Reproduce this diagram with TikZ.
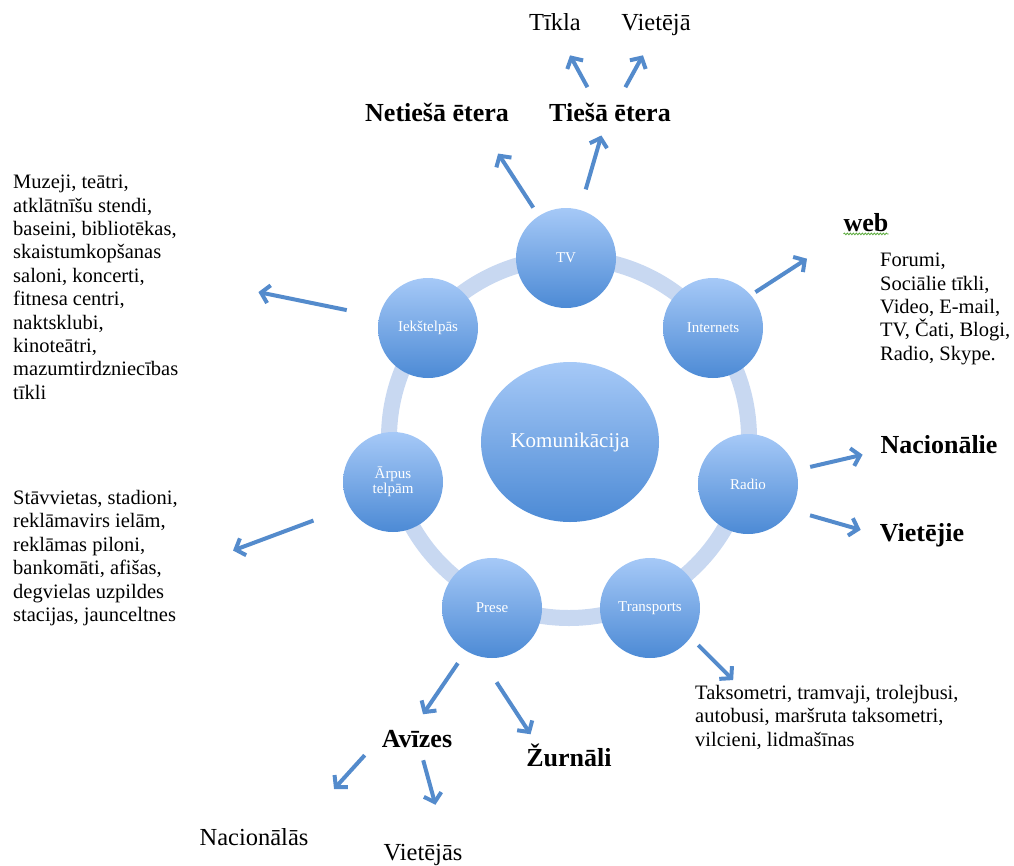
\documentclass[tikz,border=0pt]{standalone}
\usepackage{fontspec}
\setmainfont{Liberation Serif}
\usetikzlibrary{arrows.meta,shapes.geometric,decorations.pathmorphing}
\definecolor{arrowblue}{RGB}{84,139,204}
\definecolor{ringblue}{RGB}{200,216,241}
\definecolor{topblue}{RGB}{166,201,247}
\definecolor{botblue}{RGB}{76,138,213}
\definecolor{spellgreen}{RGB}{90,170,60}

\begin{document}
\begin{tikzpicture}[x=1pt,y=-1pt,
		topic/.style={circle,minimum size=100pt,inner sep=0pt,top color=topblue,bottom color=botblue,text=white,align=center,font=\fontsize{15}{15}\selectfont},
		hub/.style={ellipse,minimum width=178pt,minimum height=160pt,inner sep=0pt,top color=topblue,bottom color=botblue,text=white,font=\fontsize{21}{24}\selectfont},
		boldlabel/.style={inner sep=0pt,text height=18pt,text depth=5.2pt,font=\fontsize{26}{30}\selectfont\bfseries},
		plainlabel/.style={inner sep=0pt,text height=17pt,text depth=4.9pt,font=\fontsize{24.5}{28}\selectfont},
		textlist/.style={anchor=north west,inner sep=0pt,align=left,font=\fontsize{20.5}{23.4}\selectfont},
		arr/.style={-{Straight Barb[length=8pt,width=18pt]},line width=4pt,draw=arrowblue}]
			\useasboundingbox (0,0) rectangle (1014,865);
			\draw[ringblue,line width=16pt] (569,438) circle [radius=180pt];
			
			\node[hub] (Komunikacija) at (570,442) {Komunikācija};
			\node[topic] (TV) at (566,258) {TV};
			\node[topic] (Internets) at (713,328) {Internets};
			\node[topic] (Radio) at (748,484) {Radio};
			\node[topic] (Transports) at (650,608) {Transports};
			\node[topic] (Prese) at (492,608) {Prese};
			\node[topic] (ArpusTelpam) at (393,482) {Ārpus\\telpām};
			\node[topic] (Iekstelpas) at (428,328) {Iekštelpās};
			
			\node[boldlabel] (NetiesaEtera) at (437,115.5) {Netiešā ētera};
			\node[boldlabel] (TiesaEtera) at (610,115.5) {Tiešā ētera};
			\node[plainlabel] (Tikla) at (555,24) {Tīkla};
			\node[plainlabel] (Vieteja) at (656,24) {Vietējā};
			\node[boldlabel] (Web) at (866,225.5) {web};
			\node[boldlabel] (Nacionalie) at (939,447.5) {Nacionālie};
			\node[boldlabel] (Vietejie) at (922,535.3) {Vietējie};
			\node[boldlabel] (Avizes) at (417,741.5) {Avīzes};
			\node[boldlabel] (Zurnali) at (569,760.2) {Žurnāli};
			\node[plainlabel] (Nacionalas) at (254,839) {Nacionālās};
			\node[plainlabel] (Vietejas) at (423,854) {Vietējās};
			
			\node[textlist] (IekstList) at (13,175) {Muzeji, teātri,\\atklātnīšu stendi,\\baseini, bibliotēkas,\\skaistumkopšanas\\saloni, koncerti,\\fitnesa centri,\\naktsklubi,\\kinoteātri,\\mazumtirdzniecības\\tīkli};
			\node[textlist] (ArpusList) at (13,490) {Stāvvietas, stadioni,\\reklāmavirs ielām,\\reklāmas piloni,\\bankomāti, afišas,\\degvielas uzpildes\\stacijas, jaunceltnes};
			\node[textlist] (WebList) at (880,253) {Forumi,\\Sociālie tīkli,\\Video, E-mail,\\TV, Čati, Blogi,\\Radio, Skype.};
			\node[textlist] (TaksList) at (695,685) {Taksometri, tramvaji, trolejbusi,\\autobusi, maršruta taksometri,\\vilcieni, lidmašīnas};
			
			\draw[spellgreen,line width=0.8pt,decorate,decoration={snake,amplitude=0.9pt,segment length=3pt}] ([yshift=-2pt]Web.base west) to ([yshift=-2pt]Web.base east);
			
			\draw[arr,shorten <=9.9pt,shorten >=31.3pt] (TV.123) to (NetiesaEtera.-15);
			\draw[arr,shorten <=21.2pt,shorten >=8.5pt] (TV.74) to (TiesaEtera.-118);
			\draw[arr,shorten <=18.8pt,shorten >=23pt] (TiesaEtera.139) to (Tikla.-70);
			\draw[arr,shorten <=18.8pt,shorten >=23pt] (TiesaEtera.62) to (Vieteja.-100);
			\draw[arr,shorten <=5.4pt,shorten >=43.4pt] (Internets.41) to (Web.203);
			\draw[arr,shorten <=33pt,shorten >=81.6pt] (Iekstelpas.167) to (IekstList.8);
			\draw[arr,shorten <=38.5pt,shorten >=58.8pt] (ArpusTelpam.210) to (ArpusList.-9);
			\draw[arr,shorten <=14.3pt,shorten >=18.2pt] (Radio.16) to (Nacionalie.183);
			\draw[arr,shorten <=19.8pt,shorten >=19.8pt] (Radio.-31) to (Vietejie.180);
			\draw[arr,shorten <=10.7pt,shorten >=7pt] (Transports.-36) to (TaksList.160);
			\draw[arr,shorten <=14.7pt,shorten >=18.7pt] (Prese.-121) to (Avizes.111);
			\draw[arr,shorten <=30.5pt,shorten >=16.9pt] (Prese.-104) to (Zurnali.158);
			\draw[arr,shorten <=25.2pt,shorten >=52.5pt] (Avizes.172) to (Nacionalas.14);
			\draw[arr,shorten <=7.2pt,shorten >=39.5pt] (Avizes.-70) to (Vietejas.26);
\end{tikzpicture}
\end{document}
